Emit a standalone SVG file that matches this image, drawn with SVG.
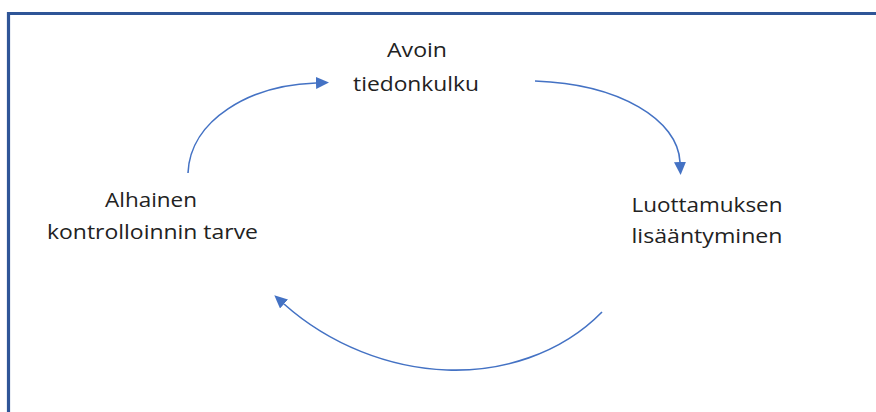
<svg xmlns="http://www.w3.org/2000/svg" width="876" height="412" viewBox="0 0 876 412">
<style>
.lbl{font-family:"Open Sans","Noto Sans","Liberation Sans",sans-serif;font-size:20px;fill:#222;text-anchor:middle}
.conn{fill:none;stroke:#4472C4;stroke-width:1.6}
</style>
<defs>
<marker id="ah" markerUnits="userSpaceOnUse" markerWidth="13" markerHeight="12" refX="0" refY="6" orient="auto">
<path d="M0,0 L13,6 L0,12 z" fill="#4472C4"/>
</marker>
</defs>
<rect width="876" height="412" fill="#fff"/>
<path d="M8.5,412 V13.5 H876" fill="none" stroke="#2F5597" stroke-width="3.2"/>
<g id="connectors">
<path class="conn" d="M188,173 C190,120 250,85 316,83" marker-end="url(#ah)"/>
<path class="conn" d="M535,81 C620,84 678,120 680,162" marker-end="url(#ah)"/>
<path class="conn" d="M602,312 C560,355 500,372 447,370 C390,368 330,345 284,304" marker-end="url(#ah)"/>
</g>
<g id="node-avoin">
<text class="lbl" x="417" y="57" textLength="60" lengthAdjust="spacingAndGlyphs">Avoin</text>
<text class="lbl" x="416" y="91" textLength="126" lengthAdjust="spacingAndGlyphs">tiedonkulku</text>
</g>
<g id="node-luottamus">
<text class="lbl" x="707" y="212" textLength="151" lengthAdjust="spacingAndGlyphs">Luottamuksen</text>
<text class="lbl" x="707" y="243" textLength="151" lengthAdjust="spacingAndGlyphs">lisääntyminen</text>
</g>
<g id="node-alhainen">
<text class="lbl" x="151" y="207" textLength="92" lengthAdjust="spacingAndGlyphs">Alhainen</text>
<text class="lbl" x="152.5" y="239" textLength="211" lengthAdjust="spacingAndGlyphs">kontrolloinnin tarve</text>
</g>
</svg>
